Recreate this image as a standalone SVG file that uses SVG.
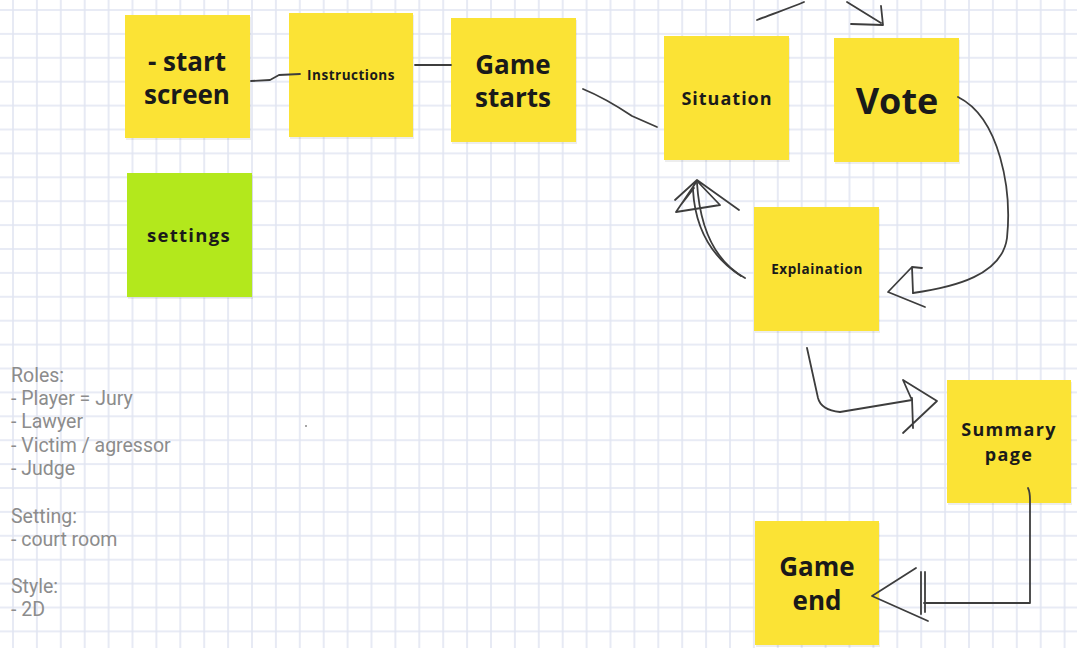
<svg xmlns="http://www.w3.org/2000/svg" width="1077" height="648" viewBox="0 0 1077 648">
<style>
.note{fill:#fbe335}
.green{fill:#b3e81c}
.shadow{fill:#000;opacity:0.07}
.lbl{font-family:"Open Sans","Noto Sans",sans-serif;font-weight:700;fill:#1a1a1a;text-anchor:middle}
.ink{fill:none;stroke:#3d3d3d;stroke-width:1.8;stroke-linecap:round;stroke-linejoin:round}
.notes{font-family:Roboto,"Noto Sans",sans-serif;font-size:19.5px;fill:#8c8c8c}
</style>
<defs>
<pattern id="grid" patternUnits="userSpaceOnUse" x="12" y="9" width="23.9" height="23.9">
<path d="M1,0 V23.9 M0,1 H23.9" stroke="#e1e5f2" stroke-width="1.6" fill="none"/>
</pattern>
</defs>
<rect width="1077" height="648" fill="#fff"/>
<rect width="1077" height="648" fill="url(#grid)"/>

<g id="start-screen">
<rect class="shadow" x="126" y="17" width="125" height="123"/>
<rect class="note" x="125" y="15" width="125" height="123"/>
<text class="lbl" font-size="26"><tspan x="187" y="71">- start</tspan><tspan x="187" y="104">screen</tspan></text>
</g>
<g id="instructions">
<rect class="shadow" x="290" y="15" width="124" height="124"/>
<rect class="note" x="289" y="13" width="124" height="124"/>
<text class="lbl" x="351" y="80" font-size="13.5" letter-spacing="0.5">Instructions</text>
</g>
<g id="game-starts">
<rect class="shadow" x="452" y="20" width="125" height="124"/>
<rect class="note" x="451" y="18" width="125" height="124"/>
<text class="lbl" font-size="26"><tspan x="513" y="74">Game</tspan><tspan x="513" y="107">starts</tspan></text>
</g>
<g id="situation">
<rect class="shadow" x="665" y="38" width="125" height="124"/>
<rect class="note" x="664" y="36" width="125" height="124"/>
<text class="lbl" x="727" y="105" font-size="18" letter-spacing="1">Situation</text>
</g>
<g id="vote">
<rect class="shadow" x="835" y="40" width="125" height="124"/>
<rect class="note" x="834" y="38" width="125" height="124"/>
<text class="lbl" x="897" y="114" font-size="36">Vote</text>
</g>
<g id="settings">
<rect class="shadow" x="128" y="175" width="125" height="124"/>
<rect class="green" x="127" y="173" width="125" height="124"/>
<text class="lbl" x="189" y="242" font-size="18.5" letter-spacing="1.3">settings</text>
</g>
<g id="explaination">
<rect class="shadow" x="755" y="209" width="125" height="124"/>
<rect class="note" x="754" y="207" width="125" height="124"/>
<text class="lbl" x="817" y="274" font-size="13.5" letter-spacing="0.6">Explaination</text>
</g>
<g id="summary-page">
<rect class="shadow" x="948" y="382" width="124" height="123"/>
<rect class="note" x="947" y="380" width="124" height="123"/>
<text class="lbl" font-size="18" letter-spacing="1.3"><tspan x="1009" y="436">Summary</tspan><tspan x="1009" y="461">page</tspan></text>
</g>
<g id="game-end">
<rect class="shadow" x="756" y="523" width="124" height="124"/>
<rect class="note" x="755" y="521" width="124" height="124"/>
<text class="lbl" font-size="26"><tspan x="817" y="576">Game</tspan><tspan x="817" y="610">end</tspan></text>
</g>

<g id="connectors">
<path class="ink" d="M251,81 L270,80 L279,75 L300,74"/>
<path class="ink" d="M415,65 L451,65"/>
<path class="ink" d="M583,89 C605,98 620,108 632,116 L657,127"/>
<path class="ink" d="M757,20 C772,14 790,8 804,2"/>
<path class="ink" d="M847,2 L881,23 M851,24 L883,25 L881,6"/>
<path class="ink" d="M958,97 C1000,118 1012,190 1007,238 C1002,275 955,287 913,293"/>
<path class="ink" d="M913,293 L912,267 L922,268 M912,267 L888,292 L925,307"/>
<path class="ink" d="M745,278 C716,262 700,230 697,183"/>
<path class="ink" d="M741,276 C710,256 695,226 693,190"/>
<path class="ink" d="M676,212 L697,181 L720,205 Z M675,200 L697,180 L739,210 M680,206 L694,188"/>
<path class="ink" d="M807,348 L818,398 Q821,410 840,412 L912,400"/>
<path class="ink" d="M912,398 L913,428 M903,380 L911,398 M903,380 L937,401 L903,433"/>
<path class="ink" d="M1028,488 Q1030,492 1030,500 L1030,603 L924,603"/>
<path class="ink" d="M921,572 L921,614 M925,572 L925,612 M916,568 L872,596 L928,621"/>
</g>

<g id="notes-text" class="notes">
<text x="11" y="382">Roles:</text>
<text x="11" y="405">- Player = Jury</text>
<text x="11" y="428">- Lawyer</text>
<text x="11" y="452">- Victim / agressor</text>
<text x="11" y="475">- Judge</text>
<text x="11" y="523">Setting:</text>
<text x="11" y="546">- court room</text>
<text x="11" y="593">Style:</text>
<text x="11" y="616">- 2D</text>
</g>
<circle cx="306" cy="426" r="1" fill="#888"/>
</svg>
